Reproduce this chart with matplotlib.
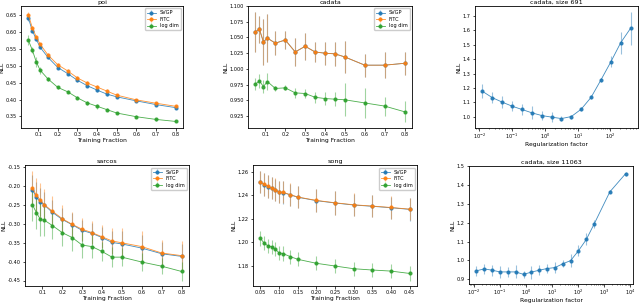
import matplotlib
matplotlib.use("Agg")
import matplotlib.pyplot as plt

plt.rcParams["axes.unicode_minus"] = False

# training fractions
frac = [0.05, 0.07, 0.09, 0.11, 0.15, 0.2, 0.25, 0.3, 0.35, 0.4, 0.45, 0.5, 0.6, 0.7, 0.8]
frac_song = [0.05, 0.06, 0.07, 0.08, 0.09, 0.10, 0.11, 0.13, 0.15, 0.2, 0.25, 0.3, 0.35, 0.4, 0.45]

# poi
poi_svgp = [0.642, 0.604, 0.579, 0.555, 0.525, 0.495, 0.477, 0.457, 0.441, 0.428, 0.416, 0.408, 0.396, 0.385, 0.376]
poi_svgp_err = [0.008, 0.007, 0.006, 0.006, 0.005, 0.005, 0.005, 0.005, 0.005, 0.006, 0.005, 0.004, 0.004, 0.004, 0.004]
poi_fitc = [0.652, 0.613, 0.586, 0.564, 0.532, 0.503, 0.485, 0.464, 0.449, 0.437, 0.425, 0.413, 0.399, 0.389, 0.380]
poi_fitc_err = [0.009, 0.006, 0.006, 0.005, 0.005, 0.005, 0.005, 0.005, 0.005, 0.006, 0.005, 0.004, 0.004, 0.004, 0.004]
poi_logdim = [0.576, 0.547, 0.512, 0.487, 0.461, 0.436, 0.423, 0.405, 0.390, 0.380, 0.370, 0.360, 0.349, 0.341, 0.335]
poi_logdim_err = [0.015, 0.008, 0.015, 0.010, 0.005, 0.005, 0.004, 0.004, 0.005, 0.007, 0.005, 0.003, 0.004, 0.005, 0.003]

# cadata
cad_svgp = [1.059, 1.063, 1.043, 1.049, 1.041, 1.046, 1.027, 1.036, 1.027, 1.025, 1.024, 1.019, 1.006, 1.006, 1.009]
cad_svgp_err = [0.032, 0.021, 0.036, 0.038, 0.019, 0.015, 0.022, 0.021, 0.016, 0.018, 0.019, 0.025, 0.018, 0.021, 0.018]
cad_fitc = [1.059, 1.063, 1.043, 1.049, 1.041, 1.046, 1.027, 1.036, 1.027, 1.025, 1.024, 1.019, 1.006, 1.006, 1.009]
cad_fitc_err = [0.032, 0.021, 0.036, 0.038, 0.019, 0.015, 0.022, 0.021, 0.016, 0.018, 0.019, 0.025, 0.018, 0.021, 0.018]
cad_logdim = [0.976, 0.981, 0.972, 0.980, 0.969, 0.970, 0.962, 0.961, 0.955, 0.953, 0.952, 0.951, 0.946, 0.941, 0.932]
cad_logdim_err = [0.010, 0.011, 0.010, 0.013, 0.004, 0.004, 0.008, 0.007, 0.009, 0.010, 0.011, 0.026, 0.024, 0.015, 0.017]

# sarcos
sar_svgp = [-0.209, -0.229, -0.242, -0.250, -0.269, -0.288, -0.302, -0.317, -0.325, -0.336, -0.349, -0.353, -0.364, -0.379, -0.386]
sar_svgp_err = [0.040, 0.040, 0.038, 0.036, 0.034, 0.031, 0.030, 0.028, 0.027, 0.028, 0.030, 0.034, 0.035, 0.030, 0.033]
sar_fitc = [-0.205, -0.224, -0.237, -0.249, -0.266, -0.286, -0.301, -0.314, -0.323, -0.334, -0.345, -0.350, -0.360, -0.377, -0.384]
sar_fitc_err = [0.047, 0.047, 0.045, 0.042, 0.040, 0.036, 0.034, 0.031, 0.030, 0.031, 0.034, 0.040, 0.041, 0.035, 0.039]
sar_logdim = [-0.249, -0.270, -0.288, -0.290, -0.304, -0.323, -0.336, -0.356, -0.360, -0.373, -0.388, -0.388, -0.401, -0.412, -0.426]
sar_logdim_err = [0.044, 0.044, 0.043, 0.041, 0.036, 0.035, 0.035, 0.035, 0.030, 0.024, 0.026, 0.024, 0.023, 0.022, 0.024]

# song
song_svgp = [1.2512, 1.2492, 1.2475, 1.2461, 1.2447, 1.2427, 1.2424, 1.2404, 1.2384, 1.2355, 1.2335, 1.2318, 1.2307, 1.2295, 1.2281]
song_svgp_err = [0.0095, 0.0095, 0.0095, 0.0095, 0.0095, 0.0095, 0.0095, 0.0095, 0.0095, 0.0100, 0.0100, 0.0095, 0.0095, 0.0095, 0.0095]
song_fitc = [1.2514, 1.2494, 1.2477, 1.2463, 1.2449, 1.2429, 1.2426, 1.2406, 1.2386, 1.2357, 1.2337, 1.2320, 1.2309, 1.2297, 1.2283]
song_fitc_err = [0.0097, 0.0097, 0.0097, 0.0095, 0.0095, 0.0095, 0.0095, 0.0095, 0.0095, 0.0100, 0.0100, 0.0097, 0.0097, 0.0095, 0.0096]
song_logdim = [1.2034, 1.1994, 1.1971, 1.1963, 1.1943, 1.1911, 1.1906, 1.1880, 1.1857, 1.1823, 1.1800, 1.1777, 1.1766, 1.1757, 1.1737]
song_logdim_err = [0.006, 0.006, 0.006, 0.006, 0.006, 0.006, 0.006, 0.006, 0.006, 0.006, 0.006, 0.006, 0.006, 0.006, 0.006]

# regularization sweeps
reg_691 = [0.0125, 0.025, 0.05, 0.1, 0.2, 0.4, 0.8, 1.6, 3.2, 6.4, 12.8, 25.6, 51.2, 102.4, 204.8, 409.6]
nll_691 = [1.177, 1.133, 1.102, 1.074, 1.051, 1.028, 1.009, 0.998, 0.988, 1.002, 1.053, 1.135, 1.256, 1.381, 1.514, 1.614]
nll_691_err = [0.049, 0.037, 0.042, 0.036, 0.040, 0.044, 0.034, 0.037, 0.015, 0.014, 0.016, 0.014, 0.014, 0.038, 0.075, 0.116]

reg_11063 = [0.0125, 0.025, 0.05, 0.1, 0.2, 0.4, 0.8, 1.6, 3.2, 6.4, 12.8, 25.6, 51.2, 102.4, 204.8, 409.6, 1638.4, 6553.6]
nll_11063 = [0.945, 0.955, 0.948, 0.939, 0.939, 0.939, 0.926, 0.938, 0.948, 0.957, 0.962, 0.982, 0.999, 1.051, 1.111, 1.193, 1.363, 1.459]
nll_11063_err = [0.026, 0.025, 0.030, 0.032, 0.028, 0.034, 0.020, 0.034, 0.026, 0.024, 0.027, 0.019, 0.034, 0.028, 0.032, 0.023, 0.008, 0.010]

FS = 3.6


def style(ax, title, xlabel):
    ax.set_title(title, fontsize=4.6, pad=1.5)
    ax.set_xlabel(xlabel, fontsize=4.3, labelpad=0.5)
    ax.set_ylabel("NLL", fontsize=4.3, labelpad=1)
    ax.tick_params(labelsize=FS, length=1.8, width=0.5, pad=1.2)
    ax.tick_params(which="minor", length=1, width=0.4)
    for s in ax.spines.values():
        s.set_linewidth(0.6)


def errline(ax, x, y, e, color, label=None):
    cont = ax.errorbar(x, y, yerr=e, color=color, marker="o", markersize=2.0,
                       linewidth=0.6, elinewidth=0.8, ecolor=color,
                       label=label)
    for c in cont[2]:
        c.set_alpha(0.45)
    cont[0].set_alpha(0.85)


def three(ax, x, s, se, f, fe, g, ge, title):
    errline(ax, x, s, se, "C0", "SVGP")
    errline(ax, x, f, fe, "C1", "FITC")
    errline(ax, x, g, ge, "C2", "log dim")
    style(ax, title, "Training Fraction")
    ax.legend(loc="upper right", fontsize=3.6, handlelength=1.8,
              borderpad=0.4, labelspacing=0.3, framealpha=1)


fig = plt.figure(figsize=(6.4, 3.04), dpi=100)
W, H = 640.0, 304.0


def box(l, r, t, b):
    return [l / W, 1 - b / H, (r - l) / W, (b - t) / H]


ax1 = fig.add_axes(box(21, 183, 6, 128))
three(ax1, frac, poi_svgp, poi_svgp_err, poi_fitc, poi_fitc_err,
      poi_logdim, poi_logdim_err, "poi")
ax1.set_xticks([0.1, 0.2, 0.3, 0.4, 0.5, 0.6, 0.7, 0.8])

ax2 = fig.add_axes(box(248, 412, 6, 128))
three(ax2, frac, cad_svgp, cad_svgp_err, cad_fitc, cad_fitc_err,
      cad_logdim, cad_logdim_err, "cadata")
ax2.set_xticks([0.1, 0.2, 0.3, 0.4, 0.5, 0.6, 0.7, 0.8])
ax2.set_yticks([0.925, 0.95, 0.975, 1.0, 1.025, 1.05, 1.075, 1.1])

ax3 = fig.add_axes(box(475, 638, 6, 128))
errline(ax3, reg_691, nll_691, nll_691_err, "C0")
ax3.set_xscale("log")
style(ax3, "cadata, size 691", "Regularization factor")

ax4 = fig.add_axes(box(25, 189, 165, 286))
three(ax4, frac, sar_svgp, sar_svgp_err, sar_fitc, sar_fitc_err,
      sar_logdim, sar_logdim_err, "sarcos")
ax4.set_xticks([0.1, 0.2, 0.3, 0.4, 0.5, 0.6, 0.7, 0.8])

ax5 = fig.add_axes(box(253, 417, 165, 286))
three(ax5, frac_song, song_svgp, song_svgp_err, song_fitc, song_fitc_err,
      song_logdim, song_logdim_err, "song")
ax5.set_xticks([0.05, 0.1, 0.15, 0.2, 0.25, 0.3, 0.35, 0.4, 0.45])

ax6 = fig.add_axes(box(469, 633, 166, 284))
errline(ax6, reg_11063, nll_11063, nll_11063_err, "C0")
ax6.set_xscale("log")
ax6.set_ylim(0.875, 1.5)
style(ax6, "cadata, size 11063", "Regularization factor")

fig.savefig("out.png", dpi=100)
